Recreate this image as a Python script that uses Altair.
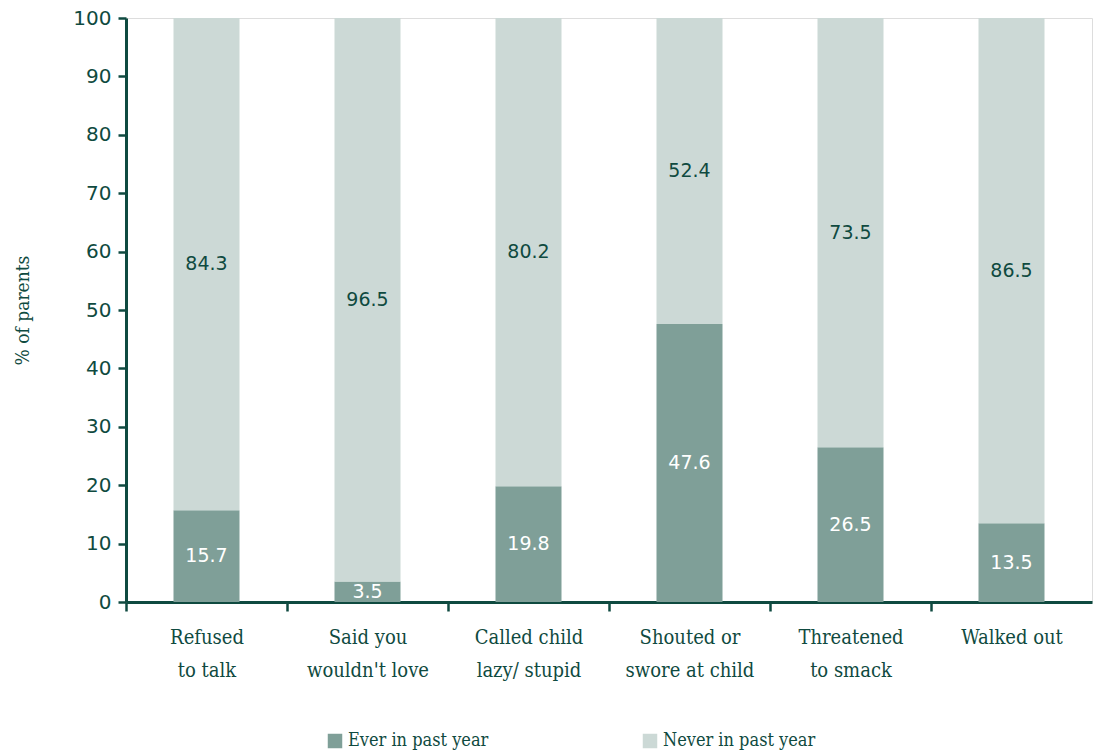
import altair as alt
import pandas as pd

categories = ["Refused|to talk", "Said you|wouldn't love", "Called child|lazy/ stupid",
              "Shouted or|swore at child", "Threatened|to smack", "Walked out"]
ever = [15.7, 3.5, 19.8, 47.6, 26.5, 13.5]
never = [84.3, 96.5, 80.2, 52.4, 73.5, 86.5]
series = ["Ever in past year", "Never in past year"]
colors = ["#7f9f98", "#ccd9d6"]
label_colors = ["#ffffff", "#0f4a40"]

rows = []
for c, e, n in zip(categories, ever, never):
    rows.append({"cat": c, "series": series[0], "value": e, "ord": 0})
    rows.append({"cat": c, "series": series[1], "value": n, "ord": 1})
df = pd.DataFrame(rows)

DARK = "#0f4a40"
SANS = "DejaVu Sans"
SERIF = "DejaVu Serif Condensed, DejaVu Serif"

x = alt.X("cat:N", sort=categories, title=None,
          scale=alt.Scale(paddingInner=0, paddingOuter=0),
          axis=alt.Axis(tickBand="extent", labelAngle=0,
                        labelExpr="split(datum.label, '|')",
                        labelFont=SERIF, labelFontSize=20, labelColor=DARK,
                        labelLineHeight=33, labelPadding=16, labelBaseline="top",
                        tickSize=9, tickWidth=2.5, tickColor=DARK,
                        tickOpacity={"condition": {"test": "datum.value === 'Walked out'", "value": 0}, "value": 1},
                        domainColor=DARK, domainWidth=3, grid=False))

bars = alt.Chart(df).mark_bar(width=alt.RelativeBandSize(0.41)).encode(
    x=x,
    y=alt.Y("value:Q", stack="zero", title="% of parents",
            scale=alt.Scale(domain=[0, 100], nice=False),
            axis=alt.Axis(values=list(range(0, 101, 10)), grid=False,
                          labelFont=SANS, labelFontSize=20, labelColor=DARK,
                          labelPadding=7,
                          tickSize=8, tickWidth=2.5, tickColor=DARK,
                          domainColor=DARK, domainWidth=3,
                          titleFont=SERIF, titleFontSize=19, titleFontWeight="normal",
                          titleColor=DARK, titlePadding=40)),
    color=alt.Color("series:N", sort=series,
                    scale=alt.Scale(domain=series, range=colors),
                    legend=alt.Legend(title=None, orient="none", legendX=200, legendY=714,
                                      direction="horizontal", symbolType="square",
                                      symbolSize=210, symbolStrokeWidth=0,
                                      labelFont=SERIF, labelFontSize=18, labelColor=DARK,
                                      labelOffset=4, columnPadding=152)),
    order=alt.Order("ord:Q"),
)

mid_text = alt.Chart(df).transform_window(
    cum="sum(value)", groupby=["cat"], sort=[alt.SortField("ord")]
).transform_calculate(
    mid="datum.cum - datum.value / 2"
).mark_text(font=SANS, fontSize=19).encode(
    x=alt.X("cat:N", sort=categories),
    y=alt.Y("mid:Q"),
    text=alt.Text("value:Q", format=".1f"),
    color=alt.Color("series:N", scale=alt.Scale(domain=series, range=label_colors), legend=None),
)

chart = alt.layer(bars, mid_text).resolve_scale(color="independent").properties(
    width=966, height=584,
    padding={"left": 126, "top": 18, "right": 5, "bottom": 153},
    autosize=alt.AutoSizeParams(type="none"),
).configure_view(stroke=None).configure(background="white")

chart.save("out.html", embed_options={"renderer": "svg", "actions": False})
